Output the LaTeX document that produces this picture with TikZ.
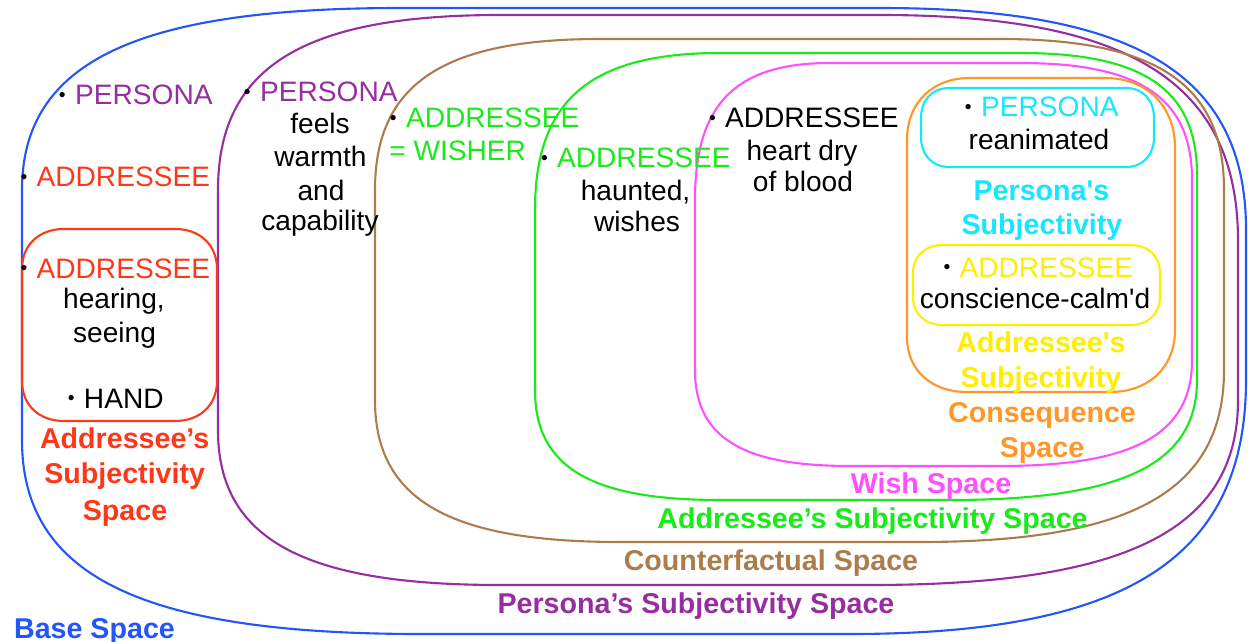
\documentclass[tikz,border=0pt]{standalone}
\usepackage{fontspec}
\setmainfont{Liberation Sans}

% colours of the nested spaces
\definecolor{baseblue}{RGB}{35,85,250}
\definecolor{personapurple}{RGB}{150,45,160}
\definecolor{cfbrown}{RGB}{172,124,74}
\definecolor{addrgreen}{RGB}{25,235,25}
\definecolor{wishmagenta}{RGB}{255,80,255}
\definecolor{consorange}{RGB}{255,150,40}
\definecolor{perscyan}{RGB}{20,232,255}
\definecolor{addryellow}{RGB}{255,238,0}
\definecolor{addrred}{RGB}{255,55,25}

% a rounded region: bounds L,T,R,B and, per corner, the horizontal and vertical extent
\newcommand\setbounds[4]{\def\rgL{#1}\def\rgT{#2}\def\rgR{#3}\def\rgB{#4}}
\newcommand\setcorners[8]{\def\rgAx{#1}\def\rgAy{#2}\def\rgBx{#3}\def\rgBy{#4}%
  \def\rgCx{#5}\def\rgCy{#6}\def\rgDx{#7}\def\rgDy{#8}}
\def\rgF{0.3}
\newcommand\drawregion[1]{%
  \draw[region,#1] (\rgL,{\rgT+\rgAy})
    .. controls (\rgL,{\rgT+\rgF*\rgAy}) and ({\rgL+\rgF*\rgAx},\rgT) .. ({\rgL+\rgAx},\rgT)
    -- ({\rgR-\rgBx},\rgT)
    .. controls ({\rgR-\rgF*\rgBx},\rgT) and (\rgR,{\rgT+\rgF*\rgBy}) .. (\rgR,{\rgT+\rgBy})
    -- (\rgR,{\rgB-\rgCy})
    .. controls (\rgR,{\rgB-\rgF*\rgCy}) and ({\rgR-\rgF*\rgCx},\rgB) .. ({\rgR-\rgCx},\rgB)
    -- ({\rgL+\rgDx},\rgB)
    .. controls ({\rgL+\rgF*\rgDx},\rgB) and (\rgL,{\rgB-\rgF*\rgDy}) .. (\rgL,{\rgB-\rgDy})
    -- cycle;}

% small black list dot in front of an item
\newcommand\itemdot{\makebox[0.35em]{\textcolor{black}{\fontsize{11}{11}\selectfont\raisebox{1.8pt}{•}}}\ }

\tikzset{
  region/.style={line width=1.2pt, line join=round},
  txt/.style={anchor=base, inner sep=0pt, font=\fontsize{16}{19}\selectfont},
  lab/.style={anchor=base, inner sep=0pt, font=\fontsize{16.3}{20}\selectfont\bfseries},
}

\begin{document}
\begin{tikzpicture}[x=0.02cm, y=-0.02cm]
\useasboundingbox (0,0) rectangle (1248,642);

% ---- nested spaces ----
\setbounds{22}{8}{1246}{634}\setcorners{378}{182}{366}{222}{396}{254}{398}{194}
\drawregion{baseblue}
\setbounds{218}{15}{1238}{585}\setcorners{282}{175}{358}{226}{368}{185}{282}{155}
\drawregion{personapurple}
\setbounds{375}{39}{1224}{542}\setcorners{225}{151}{224}{151}{304}{172}{245}{142}
\drawregion{cfbrown}
\setbounds{535}{53}{1197}{500}\setcorners{185}{157}{177}{122}{247}{120}{185}{110}
\drawregion{addrgreen}
\setbounds{695}{63}{1192}{466}\setcorners{135}{137}{172}{117}{192}{106}{155}{96}
\drawregion{wishmagenta}
\def\rgF{0.4}
\setbounds{907}{78}{1175}{392}\setcorners{63}{62}{70}{70}{65}{62}{60}{55}
\drawregion{consorange}
\setbounds{921}{88}{1154}{167}\setcorners{28}{30}{28}{30}{28}{30}{28}{30}
\drawregion{perscyan}
\setbounds{913}{245}{1160}{325}\setcorners{30}{28}{30}{28}{30}{28}{30}{28}
\drawregion{addryellow}
\setbounds{22}{229}{217}{421}\setcorners{42}{40}{42}{40}{42}{40}{42}{40}
\drawregion{addrred}

% ---- base space contents ----
\node[txt] (bpersona) at (135,105) {\itemdot\textcolor{personapurple}{PERSONA}};
\node[txt] (baddr) at (114.5,187) {\itemdot\textcolor{addrred}{ADDRESSEE}};
\node[txt] (raddr) at (114.5,278) {\itemdot\textcolor{addrred}{ADDRESSEE}};
\node[txt] (rhear) at (114,308) {hearing,};
\node[txt] (rsee) at (114.5,342) {seeing};
\node[txt] (rhand) at (115,408) {\itemdot HAND};
\node[lab, addrred] (rlab1) at (124.7,448) {Addressee’s};
\node[lab, addrred] (rlab2) at (124.7,483) {Subjectivity};
\node[lab, addrred] (rlab3) at (125,520) {Space};

% ---- persona's subjectivity contents ----
\node[txt] (ppersona) at (320,102) {\itemdot\textcolor{personapurple}{PERSONA}};
\node[txt] (pfeels) at (320,133) {feels};
\node[txt] (pwarmth) at (320.5,167) {warmth};
\node[txt] (pand) at (321,200) {and};
\node[txt] (pcap) at (320,230) {capability};

% ---- counterfactual contents ----
\node[txt, anchor=base west] (waddr) at (388,128) {\itemdot\textcolor{addrgreen}{ADDRESSEE}};
\node[txt, anchor=base west, addrgreen] (wwisher) at (389,160) {= WISHER};

% ---- addressee's subjectivity contents ----
\node[txt] (gaddr) at (635,168) {\itemdot\textcolor{addrgreen}{ADDRESSEE}};
\node[txt] (ghaunt) at (635.5,200) {haunted,};
\node[txt] (gwish) at (637,232) {wishes};

% ---- wish space contents ----
\node[txt] (kaddr) at (803,128) {\itemdot ADDRESSEE};
\node[txt] (kheart) at (802,160) {heart dry};
\node[txt] (kblood) at (803,192) {of blood};

% ---- consequence space contents ----
\node[txt] (cpersona) at (1041,117) {\itemdot\textcolor{perscyan}{PERSONA}};
\node[txt] (creanim) at (1039,150) {reanimated};
\node[lab, perscyan] (clab1) at (1041.5,200) {Persona\textquotesingle s};
\node[lab, perscyan] (clab2) at (1042,235) {Subjectivity};
\node[txt] (yaddr) at (1037.5,277) {\itemdot\textcolor{addryellow}{ADDRESSEE}};
\node[txt] (ycalm) at (1035,308) {conscience-calm\textquotesingle d};
\node[lab, addryellow] (ylab1) at (1041,352) {Addressee\textquotesingle s};
\node[lab, addryellow] (ylab2) at (1041,387) {Subjectivity};

% ---- space labels ----
\node[lab, consorange] (olab1) at (1042,422) {Consequence};
\node[lab, consorange] (olab2) at (1042,457) {Space};
\node[lab, wishmagenta] (mlab) at (931,493) {Wish Space};
\node[lab, addrgreen] (glab) at (872.5,528) {Addressee’s Subjectivity Space};
\node[lab, cfbrown] (blab) at (771,570) {Counterfactual Space};
\node[lab, personapurple] (plab) at (696,613) {Persona’s Subjectivity Space};
\node[lab, baseblue] (baselab) at (94.5,638) {Base Space};
\end{tikzpicture}
\end{document}
